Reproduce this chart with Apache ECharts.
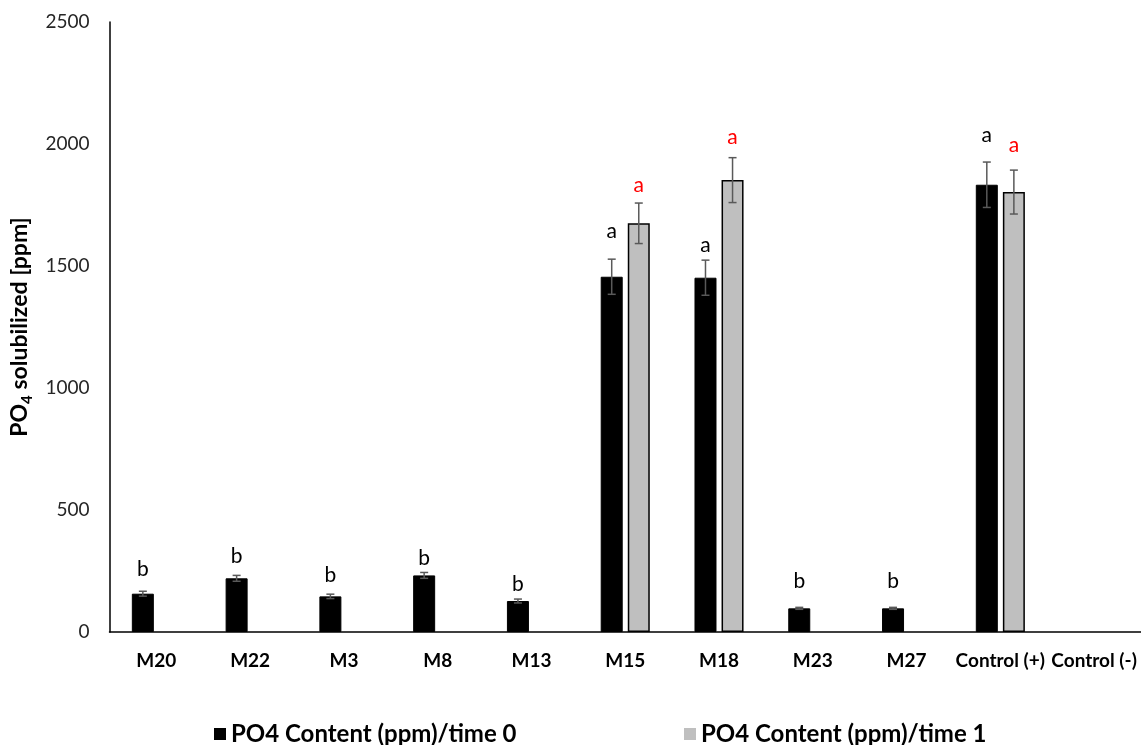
<!DOCTYPE html>
<html>
<head>
<meta charset="utf-8">
<script src="https://cdn.jsdelivr.net/npm/echarts@6/dist/echarts.min.js"></script>
<style>
html,body{margin:0;padding:0;background:#fff;}
#chart{width:1141px;height:745px;}
</style>
</head>
<body>
<div id="chart"></div>
<script>
const categories = ['M20','M22','M3','M8','M13','M15','M18','M23','M27','Control (+)','Control (-)'];
const seriesNames = ['PO4 Content (ppm)/time 0','PO4 Content (ppm)/time 1'];
const time0 = [157, 220, 146, 232, 127, 1456, 1452, 97, 97, 1833, null];
const time1 = [null, null, null, null, null, 1675, 1852, null, null, 1803, null];
const err0 = [10, 12, 9, 12, 8, 72, 72, 4, 4, 93, null];
const err1 = [null, null, null, null, null, 83, 92, null, null, 90, null];
const letters0 = ['b','b','b','b','b','a','a','b','b','a',''];
const letters1 = ['','','','','','a','a','','','a',''];
const letterY0 = [257, 309, 234, 302, 195, 1643, 1586, 210, 210, 2037, null];
const letterY1 = [null, null, null, null, null, 1832, 2029, null, null, 1993, null];
const yTicks = [0, 500, 1000, 1500, 2000, 2500];

const FONT = 'Lato, "Open Sans", sans-serif';
const BAR_W = 22, GAP_PCT = 23;
const halfSpan = (BAR_W + BAR_W * GAP_PCT / 100) / 2;

function errData(vals, errs) {
  return categories.map((c, i) => [i, vals[i], errs[i]]);
}

function errRender(offset, letterColor, lets, lys) {
  return function (params, api) {
    const idx = params.dataIndex;
    const i = api.value(0);
    const v = api.value(1);
    const e = api.value(2);
    const children = [];
    if (v == null || isNaN(v)) return { type: 'group', children: [] };
    const cx = api.coord([i, 0])[0] + offset;
    if (e != null && !isNaN(e) && e > 0) {
      const top = api.coord([i, v + e])[1];
      const bot = api.coord([i, v - e])[1];
      const cap = 4;
      const st = { stroke: '#595959', lineWidth: 1.5 };
      children.push({ type: 'line', shape: { x1: cx, y1: top, x2: cx, y2: bot }, style: st });
      children.push({ type: 'line', shape: { x1: cx - cap, y1: top, x2: cx + cap, y2: top }, style: st });
      children.push({ type: 'line', shape: { x1: cx - cap, y1: bot, x2: cx + cap, y2: bot }, style: st });
    }
    const letter = lets[idx];
    const ly = lys[idx];
    if (letter && ly != null) {
      const y = api.coord([i, ly])[1];
      children.push({ type: 'text', x: cx, y: y, style: { text: letter, fill: letterColor,
        fontFamily: FONT, fontSize: 21, align: 'center', verticalAlign: 'middle' } });
    }
    return { type: 'group', children: children };
  };
}

const legendText = { fontFamily: FONT, fontWeight: 'bold', fontSize: 24, color: '#000' };
const chart = echarts.init(document.getElementById('chart'), null, { renderer: 'canvas' });
chart.setOption({
  animation: false,
  backgroundColor: '#ffffff',
  grid: { left: 108, right: 0, top: 22, bottom: 113, containLabel: false },
  legend: [
    { data: [seriesNames[0]], left: 209, top: 717, icon: 'rect', itemWidth: 12, itemHeight: 12, itemGap: 4,
      itemStyle: { borderWidth: 0 }, textStyle: legendText },
    { data: [seriesNames[1]], left: 679, top: 717, icon: 'rect', itemWidth: 12, itemHeight: 12, itemGap: 4,
      itemStyle: { borderWidth: 0 }, textStyle: legendText }
  ],
  xAxis: {
    type: 'category', data: categories,
    axisLine: { show: true, lineStyle: { color: '#000', width: 1.5 } },
    axisTick: { show: false },
    axisLabel: { color: '#000', fontFamily: FONT, fontWeight: 'bold', fontSize: 19, margin: 19, interval: 0 },
    splitLine: { show: false }
  },
  yAxis: {
    type: 'value', min: 0, max: 2500, interval: 500,
    name: '{a|PO}{s|4}{a| solubilized [ppm]}',
    nameLocation: 'middle', nameGap: 74, nameRotate: 90,
    nameTextStyle: {
      rich: {
        a: { fontFamily: FONT, fontWeight: 'bold', fontSize: 23, color: '#000', lineHeight: 30, verticalAlign: 'middle' },
        s: { fontFamily: FONT, fontWeight: 'bold', fontSize: 15, color: '#000', lineHeight: 30, verticalAlign: 'bottom', padding: [10, 0, 0, 0] }
      }
    },
    axisLine: { show: true, lineStyle: { color: '#000', width: 1.5 } },
    axisTick: { show: false },
    splitLine: { show: false },
    axisLabel: { color: '#262626', fontFamily: FONT, fontSize: 19, margin: 20,
      formatter: v => yTicks.includes(v) ? String(v) : '' }
  },
  series: [
    { name: seriesNames[0], type: 'bar', data: time0, barWidth: BAR_W, barGap: GAP_PCT + '%',
      itemStyle: { color: '#000000', borderColor: '#000', borderWidth: 1 } },
    { name: seriesNames[1], type: 'bar', data: time1, barWidth: BAR_W, barGap: GAP_PCT + '%',
      itemStyle: { color: '#bfbfbf', borderColor: '#000', borderWidth: 1.5 } },
    { type: 'custom', name: 'err0', renderItem: errRender(-halfSpan, '#000000', letters0, letterY0),
      data: errData(time0, err0), encode: { x: 0, y: 1 }, z: 10, clip: false, silent: true },
    { type: 'custom', name: 'err1', renderItem: errRender(halfSpan, '#ff0000', letters1, letterY1),
      data: errData(time1, err1), encode: { x: 0, y: 1 }, z: 10, clip: false, silent: true }
  ]
});
</script>
</body>
</html>
